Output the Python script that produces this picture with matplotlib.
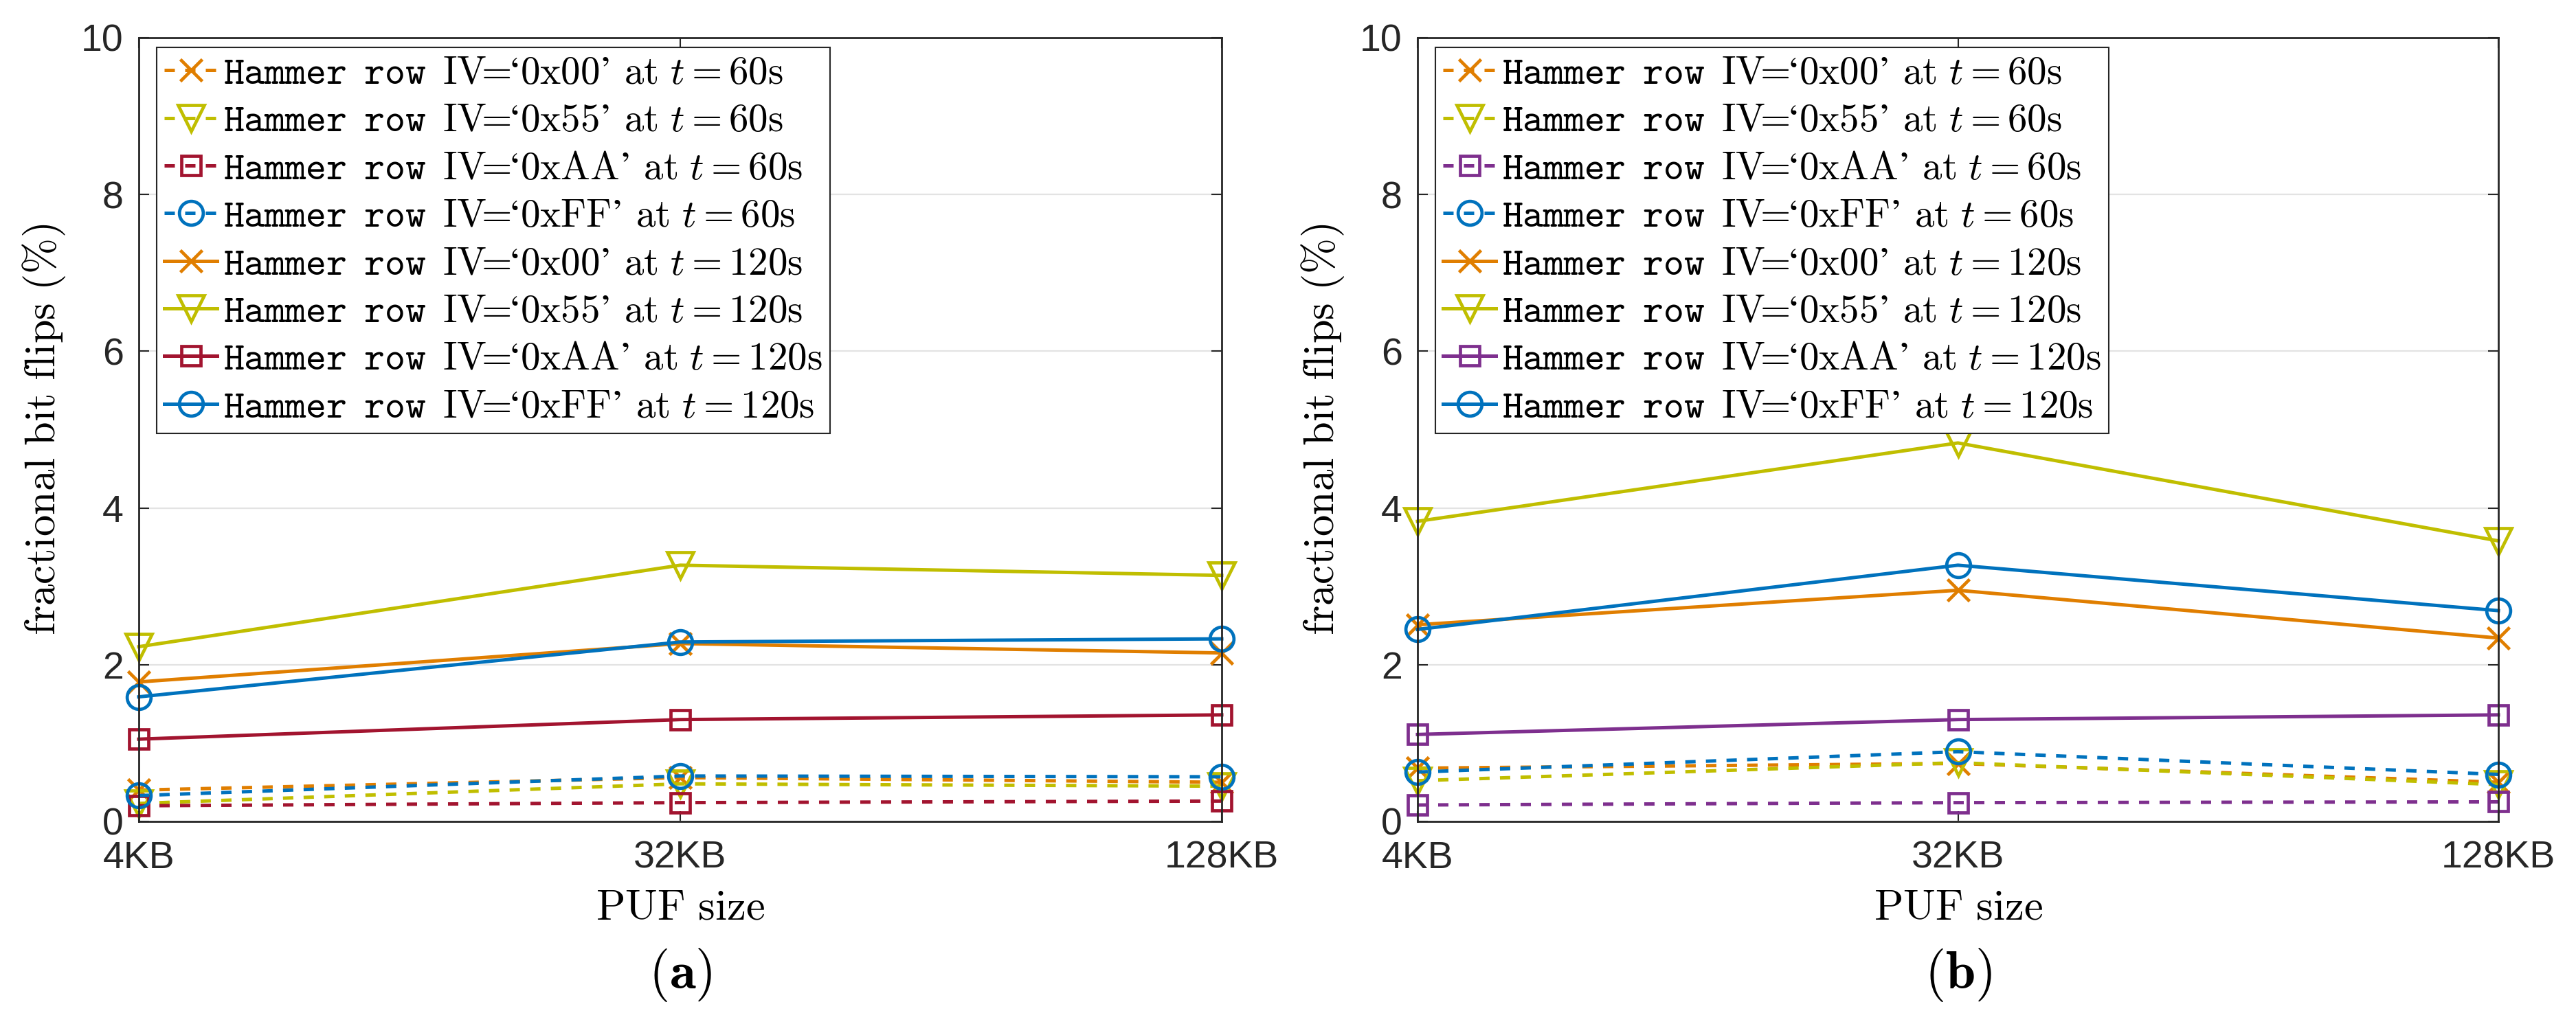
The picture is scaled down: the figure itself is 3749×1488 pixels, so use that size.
import numpy as np
import matplotlib
matplotlib.use('Agg')
import matplotlib.pyplot as plt

plt.rcParams['mathtext.fontset'] = 'cm'
plt.rcParams['font.family'] = ['Liberation Sans', 'DejaVu Sans']

sizes = ['4KB', '32KB', '128KB']

# (a) values, % bit flips
a_00_60 = [0.40, 0.56, 0.50]
a_55_60 = [0.23, 0.48, 0.45]
a_AA_60 = [0.20, 0.24, 0.26]
a_FF_60 = [0.33, 0.58, 0.57]
a_00_120 = [1.78, 2.27, 2.15]
a_55_120 = [2.23, 3.27, 3.14]
a_AA_120 = [1.05, 1.30, 1.36]
a_FF_120 = [1.59, 2.29, 2.33]

# (b)
b_00_60 = [0.68, 0.74, 0.50]
b_55_60 = [0.52, 0.75, 0.47]
b_AA_60 = [0.21, 0.24, 0.25]
b_FF_60 = [0.63, 0.89, 0.60]
b_00_120 = [2.51, 2.95, 2.34]
b_55_120 = [3.83, 4.83, 3.58]
b_AA_120 = [1.11, 1.30, 1.36]
b_FF_120 = [2.45, 3.27, 2.69]

ivs = ['0x00', '0x55', '0xAA', '0xFF']
markers = ['x', 'v', 's', 'o']
msizes = [23, 28, 20, 25]
orange = '#E07E00'
yellow = '#C0BE00'
blue = '#0072BD'
col_a = [orange, yellow, '#A2142F', blue]
col_b = [orange, yellow, '#7E2F8E', blue]
axcol = '#262626'

W, H = 3749, 1488
fig = plt.figure(figsize=(W / 100, H / 100), dpi=100)


def label(iv, t):
    return (r'$\mathtt{Hammer\enspace row\enspace}\mathrm{IV}\!\!=\!\!\mathrm{‘'
            + iv + r"’\ at\ }t = " + t + r'\mathrm{s}$')


def panel(rect, data60, data120, cols, tag):
    ax = fig.add_axes(rect)
    x = np.arange(len(sizes))
    for i in range(4):
        ax.plot(x, data60[i], color=cols[i], marker=markers[i], ms=msizes[i],
                mew=3.4, mfc='none', lw=3.6, dashes=(3, 3), clip_on=False,
                label=label(ivs[i], '60'))
    for i in range(4):
        ax.plot(x, data120[i], color=cols[i], marker=markers[i], ms=msizes[i],
                mew=3.4, mfc='none', lw=3.6, clip_on=False,
                label=label(ivs[i], '120'))
    ax.set_xlim(0, 2)
    ax.set_ylim(0, 10)
    ax.set_xticks(x)
    ax.set_xticklabels(sizes)
    ax.set_yticks(np.arange(0, 11, 2))
    ax.tick_params(direction='in', length=11, width=1.5, colors=axcol,
                   labelsize=40, top=True, right=True)
    ax.tick_params(axis='x', pad=20)
    ax.tick_params(axis='y', pad=16)
    ax.yaxis.grid(True, color='#E3E3E3', lw=1.6)
    ax.set_axisbelow(True)
    for s in ax.spines.values():
        s.set_color(axcol)
        s.set_linewidth(2)
    ax.set_ylabel(r'$\mathrm{fractional\ bit\ flips\ (\%)}$', fontsize=45)
    ax.yaxis.set_label_coords(-0.066, 0.5)
    ax.set_xlabel(r'$\mathrm{PUF\ size}$', fontsize=45)
    ax.xaxis.set_label_coords(0.5, -0.085)
    leg = ax.legend(loc='upper left', bbox_to_anchor=(0.0165, 0.988),
                    borderaxespad=0, fontsize=41, handlelength=1.35,
                    handletextpad=0.15, labelspacing=0.27, borderpad=0.2,
                    fancybox=False, framealpha=1, edgecolor=axcol,
                    numpoints=1)
    leg.get_frame().set_linewidth(1.5)
    fig.text(rect[0] + rect[2] / 2, 0.046, r'$(\mathbf{' + tag + r'})$',
             fontsize=56, ha='center', va='center')
    return ax


bot = (H - 1196) / H
hgt = (1196 - 55) / H
panel([202 / W, bot, 1576 / W, hgt],
      [a_00_60, a_55_60, a_AA_60, a_FF_60],
      [a_00_120, a_55_120, a_AA_120, a_FF_120], col_a, 'a')
panel([2063 / W, bot, 1573 / W, hgt],
      [b_00_60, b_55_60, b_AA_60, b_FF_60],
      [b_00_120, b_55_120, b_AA_120, b_FF_120], col_b, 'b')

fig.savefig('out.png', dpi=100, facecolor='white')
